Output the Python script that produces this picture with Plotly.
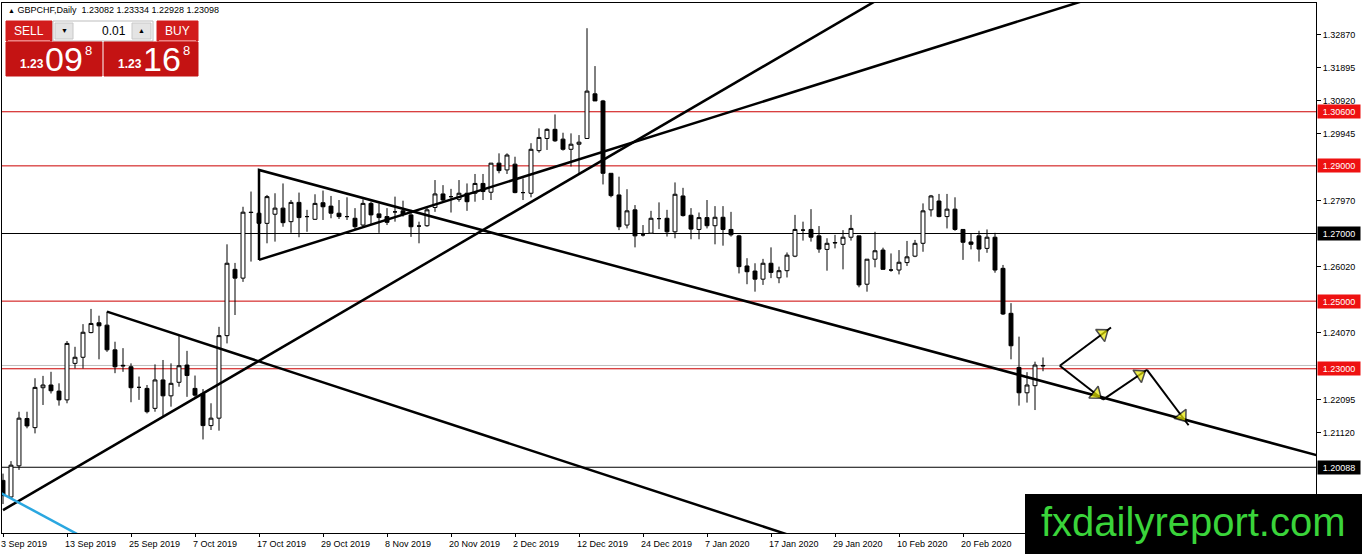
import pandas as pd
import plotly.graph_objects as go

# ---- GBPCHF daily candles ----
opens = [1.1970, 1.1921, 1.2013, 1.2153, 1.2126, 1.2244, 1.2252, 1.2234, 1.2208, 1.2316,
         1.2334, 1.2407, 1.2436, 1.2429, 1.2356, 1.2308, 1.2306, 1.2245, 1.2242, 1.2183,
         1.2267, 1.2220, 1.2260, 1.2311, 1.2242, 1.2227, 1.2132, 1.2154, 1.2398, 1.2594,
         1.2568, 1.2763, 1.2760, 1.2730, 1.2757, 1.2775, 1.2735, 1.2792, 1.2750, 1.2742,
         1.2791, 1.2781, 1.2760, 1.2750, 1.2745, 1.2725, 1.2789, 1.2758, 1.2750, 1.2764,
         1.2767, 1.2755, 1.2722, 1.2723, 1.2777, 1.2817, 1.2809, 1.2801, 1.2819, 1.2819,
         1.2848, 1.2822, 1.2908, 1.2888, 1.2905, 1.2821, 1.2819, 1.2945, 1.2981, 1.3008,
         1.2979, 1.2949, 1.2964, 1.2981, 1.3113, 1.3092, 1.2878, 1.2814, 1.2725, 1.2770,
         1.2696, 1.2701, 1.2744, 1.2745, 1.2705, 1.2811, 1.2754, 1.2712, 1.2747, 1.2723,
         1.2748, 1.2712, 1.2693, 1.2604, 1.2589, 1.2565, 1.2612, 1.2569, 1.2590, 1.2633,
         1.2710, 1.2712, 1.2693, 1.2653, 1.2672, 1.2668, 1.2689, 1.2693, 1.2550, 1.2624,
         1.2651, 1.2592, 1.2592, 1.2614, 1.2633, 1.2671, 1.2770, 1.2796, 1.2750, 1.2772,
         1.2712, 1.2675, 1.2693, 1.2656, 1.2689, 1.2597, 1.2464, 1.2304, 1.2229, 1.2250,
         1.23082]
highs = [1.1990, 1.2027, 1.2173, 1.2173, 1.2272, 1.2279, 1.2291, 1.2257, 1.2382, 1.2365,
         1.2432, 1.2477, 1.2457, 1.2469, 1.2380, 1.2361, 1.2316, 1.2277, 1.2252, 1.2313,
         1.2326, 1.2316, 1.2398, 1.2353, 1.2280, 1.2240, 1.2198, 1.2424, 1.2668, 1.2613,
         1.2779, 1.2824, 1.2784, 1.2814, 1.2819, 1.2848, 1.2799, 1.2821, 1.2770, 1.2816,
         1.2827, 1.2811, 1.2799, 1.2807, 1.2775, 1.2801, 1.2794, 1.2789, 1.2775, 1.2809,
         1.2797, 1.2770, 1.2735, 1.2777, 1.2858, 1.2843, 1.2832, 1.2858, 1.2848, 1.2876,
         1.2876, 1.2908, 1.2937, 1.2937, 1.2927, 1.2863, 1.2967, 1.3011, 1.3011, 1.3052,
         1.2998, 1.2996, 1.2991, 1.3307, 1.3195, 1.3095, 1.2878, 1.2868, 1.2831, 1.2784,
         1.2725, 1.2767, 1.2792, 1.2770, 1.2851, 1.2835, 1.2775, 1.2762, 1.2799, 1.2781,
         1.2781, 1.2764, 1.2696, 1.2627, 1.2612, 1.2625, 1.2659, 1.2602, 1.2644, 1.2755,
         1.2735, 1.2772, 1.2722, 1.2686, 1.2696, 1.2710, 1.2755, 1.2693, 1.2624, 1.2705,
         1.2658, 1.2641, 1.2651, 1.2678, 1.2681, 1.2789, 1.2814, 1.2817, 1.2817, 1.2807,
         1.2712, 1.2701, 1.2708, 1.2712, 1.2702, 1.2607, 1.2494, 1.2395, 1.2290, 1.2321,
         1.23334]
lows = [1.1900, 1.1915, 1.2001, 1.2124, 1.2109, 1.2193, 1.2227, 1.2191, 1.2198, 1.2301,
        1.2301, 1.2405, 1.2328, 1.2350, 1.2287, 1.2291, 1.2201, 1.2208, 1.2168, 1.2173,
        1.2158, 1.2188, 1.2247, 1.2217, 1.2217, 1.2091, 1.2119, 1.2117, 1.2375, 1.2459,
        1.2557, 1.2617, 1.2681, 1.2671, 1.2676, 1.2720, 1.2702, 1.2689, 1.2705, 1.2740,
        1.2740, 1.2745, 1.2743, 1.2740, 1.2712, 1.2718, 1.2725, 1.2702, 1.2725, 1.2735,
        1.2750, 1.2690, 1.2671, 1.2720, 1.2764, 1.2791, 1.2762, 1.2794, 1.2767, 1.2794,
        1.2799, 1.2799, 1.2878, 1.2876, 1.2819, 1.2799, 1.2807, 1.2939, 1.2947, 1.2971,
        1.2945, 1.2898, 1.2876, 1.2981, 1.3092, 1.2845, 1.2807, 1.2710, 1.2715, 1.2659,
        1.2691, 1.2701, 1.2713, 1.2691, 1.2686, 1.2750, 1.2683, 1.2683, 1.2715, 1.2668,
        1.2664, 1.2691, 1.2582, 1.2550, 1.2528, 1.2548, 1.2568, 1.2553, 1.2570, 1.2630,
        1.2679, 1.2676, 1.2643, 1.2590, 1.2656, 1.2594, 1.2679, 1.2541, 1.2528, 1.2600,
        1.2594, 1.2587, 1.2579, 1.2604, 1.2630, 1.2646, 1.2750, 1.2748, 1.2715, 1.2708,
        1.2622, 1.2653, 1.2617, 1.2643, 1.2584, 1.2459, 1.2328, 1.2191, 1.2200, 1.2178,
        1.22928]
closes = [1.1925, 1.2015, 1.2154, 1.2131, 1.2245, 1.2252, 1.2235, 1.2208, 1.2375, 1.2334,
          1.2408, 1.2434, 1.2427, 1.2356, 1.2306, 1.2310, 1.2244, 1.2245, 1.2173, 1.2267,
          1.2220, 1.2257, 1.2309, 1.2280, 1.2222, 1.2132, 1.2154, 1.2398, 1.2612, 1.2568,
          1.2763, 1.2762, 1.2730, 1.2809, 1.2775, 1.2732, 1.2792, 1.2747, 1.2750, 1.2789,
          1.2779, 1.2760, 1.2750, 1.2750, 1.2720, 1.2789, 1.2755, 1.2747, 1.2733, 1.2764,
          1.2757, 1.2720, 1.2722, 1.2770, 1.2817, 1.2799, 1.2809, 1.2819, 1.2794, 1.2848,
          1.2824, 1.2908, 1.2886, 1.2932, 1.2821, 1.2821, 1.2949, 1.2984, 1.3008, 1.2974,
          1.2949, 1.2964, 1.2970, 1.3121, 1.3092, 1.2878, 1.2812, 1.2720, 1.2767, 1.2693,
          1.2696, 1.2745, 1.2744, 1.2705, 1.2816, 1.2753, 1.2713, 1.2747, 1.2723, 1.2748,
          1.2712, 1.2696, 1.2602, 1.2587, 1.2565, 1.2612, 1.2585, 1.2590, 1.2636, 1.2712,
          1.2710, 1.2689, 1.2654, 1.2671, 1.2673, 1.2689, 1.2715, 1.2548, 1.2624, 1.2649,
          1.2594, 1.2592, 1.2615, 1.2631, 1.2671, 1.2767, 1.2811, 1.2750, 1.2772, 1.2712,
          1.2674, 1.2668, 1.2654, 1.2689, 1.2592, 1.2462, 1.2368, 1.2229, 1.2252, 1.2311,
          1.23098]

# trading days shown on the chart (no bars on 25 Dec and 1 Jan)
skip_days = ["2019-12-25", "2020-01-01"]
all_days = pd.bdate_range("2019-09-03", periods=160)
dates = [d for d in all_days if d.strftime("%Y-%m-%d") not in skip_days][:len(closes)]
bar_idx = list(range(len(closes)))

date_labels = ["3 Sep 2019", "13 Sep 2019", "25 Sep 2019", "7 Oct 2019", "17 Oct 2019",
               "29 Oct 2019", "8 Nov 2019", "20 Nov 2019", "2 Dec 2019", "12 Dec 2019",
               "24 Dec 2019", "7 Jan 2020", "17 Jan 2020", "29 Jan 2020", "10 Feb 2020",
               "20 Feb 2020"]
price_ticks = [1.32870, 1.31895, 1.30920, 1.29945, 1.27970, 1.26020, 1.24070,
               1.22095, 1.21120, 1.19170]

# horizontal levels and their price tags
level_prices = [1.30600, 1.29000, 1.27000, 1.25000, 1.23000, 1.20088]
level_colors = ["#cc0000", "#cc0000", "#000000", "#cc0000", "#cc0000", "#000000"]
tag_colors = ["#ee1111", "#ee1111", "#000000", "#ee1111", "#ee1111", "#000000"]
bid_price = 1.23098

# trend lines (bar index, price)
up_x, up_p = [0, 112], [1.1882, 1.3428]
chan_x, chan_p = [32, 136], [1.2622, 1.3395]
tri_x, tri_p = [166, 32, 32], [1.2033, 1.2888, 1.2622]
down_x, down_p = [13, 100], [1.2469, 1.1795]
blue_x, blue_p = [-0.2, 10], [1.1932, 1.1802]

# projected path arrows
arrow_x0 = [132.1, 132.1, 137.5, 143.0]
arrow_p0 = [1.2309, 1.2309, 1.2209, 1.2297]
arrow_x1 = [138.5, 137.5, 143.0, 148.2]
arrow_p1 = [1.2422, 1.2209, 1.2297, 1.2133]

W, H = 1362, 554
ML, MR, MT, MB = 2, 46, 3, 21
PW, PH = W - ML - MR, H - MT - MB


def fx(px):
    return (px - ML) / PW


def fy(py):
    return (H - MB - py) / PH


FONT = "Liberation Sans, Arial, sans-serif"

fig = go.Figure()
fig.add_trace(go.Candlestick(
    x=bar_idx, open=opens, high=highs, low=lows, close=closes,
    increasing=dict(line=dict(color="black", width=1), fillcolor="white"),
    decreasing=dict(line=dict(color="black", width=1), fillcolor="black"),
    whiskerwidth=0, showlegend=False, hoverinfo="skip"))

for xs, ps in [(up_x, up_p), (chan_x, chan_p), (tri_x, tri_p), (down_x, down_p)]:
    fig.add_trace(go.Scatter(x=xs, y=ps, mode="lines", line=dict(color="black", width=2.5),
                             showlegend=False, hoverinfo="skip"))
fig.add_trace(go.Scatter(x=blue_x, y=blue_p, mode="lines", line=dict(color="#2aa7e0", width=2.5),
                         showlegend=False, hoverinfo="skip"))

for x0, p0, x1, p1 in zip(arrow_x0, arrow_p0, arrow_x1, arrow_p1):
    fig.add_trace(go.Scatter(x=[x0, x1], y=[p0, p1], mode="lines",
                             line=dict(color="black", width=2), showlegend=False, hoverinfo="skip"))
    hx = x0 + (x1 - x0) * 0.84
    hp = p0 + (p1 - p0) * 0.84
    fig.add_trace(go.Scatter(x=[x0, hx], y=[p0, hp], mode="markers",
                             marker=dict(symbol="triangle-up", size=[0, 13], angleref="previous",
                                         color="#e6e600", line=dict(color="black", width=1.5)),
                             showlegend=False, hoverinfo="skip"))

shapes = []
for p, c in zip(level_prices, level_colors):
    shapes.append(dict(type="line", xref="paper", x0=0, x1=1, yref="y", y0=p, y1=p,
                       line=dict(color=c, width=1), layer="below"))
shapes.append(dict(type="line", xref="paper", x0=0, x1=1, yref="y", y0=bid_price, y1=bid_price,
                   line=dict(color="#c0c0c0", width=1), layer="below"))

annotations = []
for p, c in zip(level_prices, tag_colors):
    annotations.append(dict(x=1, xref="paper", xanchor="left", xshift=1, y=p, yref="y",
                            text="%.5f" % p, showarrow=False, bgcolor=c, borderpad=1,
                            width=40, height=11, font=dict(family=FONT, size=9, color="white")))

# date labels on the time axis, left aligned at their bar
tick_idx = []
for lab in date_labels:
    d = pd.to_datetime(lab, format="%d %b %Y")
    i = dates.index(d)
    tick_idx.append(i)
    annotations.append(dict(x=i, xref="x", xanchor="left", xshift=-4, y=0, yref="paper",
                            yanchor="top", yshift=-4, text=lab, showarrow=False,
                            font=dict(family=FONT, size=9, color="black")))

# header
annotations.append(dict(x=fx(6), y=fy(10), xref="paper", yref="paper", xanchor="left",
                        yanchor="middle", showarrow=False,
                        text="<span style='font-size:7px'>▲</span> GBPCHF,Daily  "
                             "%.5f %.5f %.5f %.5f" % (opens[-1], highs[-1], lows[-1], closes[-1]),
                        font=dict(family=FONT, size=9, color="black")))

# one-click trading panel
red_top = "#d21c1c"
red_box = "#c41313"
panel = [
    (6, 21, 52, 41, red_top, None),
    (53, 21, 153, 41, "white", "#bdbdbd"),
    (55, 23, 73, 39, "#e4e4e4", "#c8c8c8"),
    (132, 23, 151, 39, "#e4e4e4", "#c8c8c8"),
    (157, 21, 198, 41, red_top, None),
    (6, 42, 102, 76, red_box, None),
    (104, 42, 198, 76, red_box, None),
]
for x0, y0, x1, y1, fill, edge in panel:
    shapes.append(dict(type="rect", xref="paper", yref="paper", x0=fx(x0), x1=fx(x1),
                       y0=fy(y1), y1=fy(y0), fillcolor=fill, layer="above",
                       line=dict(color=edge if edge else fill, width=1)))
shapes.append(dict(type="line", xref="paper", yref="paper", x0=fx(8), x1=fx(50), y0=fy(40.5),
                   y1=fy(40.5), line=dict(color="#f08080", width=1), layer="above"))
shapes.append(dict(type="line", xref="paper", yref="paper", x0=fx(159), x1=fx(196), y0=fy(40.5),
                   y1=fy(40.5), line=dict(color="#f08080", width=1), layer="above"))

panel_text = [
    (29, 31, "SELL", 12, "white", "center"),
    (177, 31, "BUY", 12, "white", "center"),
    (64, 31, "▼", 7, "black", "center"),
    (141, 31, "▲", 7, "black", "center"),
    (128, 31, "0.01", 12, "black", "right"),
    (32, 64, "<b>1.23</b>", 12, "white", "center"),
    (64, 59, "09", 34, "white", "center"),
    (88, 51, "8", 13, "white", "center"),
    (130, 64, "<b>1.23</b>", 12, "white", "center"),
    (162, 59, "16", 34, "white", "center"),
    (186, 51, "8", 13, "white", "center"),
]
for x, y, t, s, c, anchor in panel_text:
    annotations.append(dict(x=fx(x), y=fy(y), xref="paper", yref="paper", xanchor=anchor,
                            yanchor="middle", text=t, showarrow=False,
                            font=dict(family=FONT, size=s, color=c)))

# watermark
shapes.append(dict(type="rect", xref="paper", yref="paper", x0=fx(1025), x1=fx(1364),
                   y0=fy(556), y1=fy(494), fillcolor="black", line=dict(width=0), layer="above"))
annotations.append(dict(x=fx(1193), y=fy(522), xref="paper", yref="paper", xanchor="center",
                        yanchor="middle", text="fxdailyreport.com", showarrow=False,
                        font=dict(family=FONT, size=40, color="#3ad43a")))

fig.update_layout(
    width=W, height=H, margin=dict(l=ML, r=MR, t=MT, b=MB),
    paper_bgcolor="white", plot_bgcolor="white", showlegend=False,
    shapes=shapes, annotations=annotations,
    xaxis=dict(range=[-0.125, 164.125], showgrid=False, zeroline=False, showline=True,
               mirror=True, linecolor="black", linewidth=1, ticks="outside", ticklen=3,
               tickcolor="black", tickvals=tick_idx, showticklabels=False,
               rangeslider=dict(visible=False)),
    yaxis=dict(side="right", range=[1.181443, 1.338155], showgrid=False, zeroline=False,
               showline=True, mirror=True, linecolor="black", linewidth=1, ticks="outside",
               ticklen=4, tickcolor="black", tickvals=price_ticks,
               ticktext=["%.5f" % v for v in price_ticks],
               tickfont=dict(family=FONT, size=9, color="black")),
)

# the page's default body margin would push the fixed-size figure off the window
fig.write_html("out.html", config={"displayModeBar": False},
               post_script="document.body.style.margin = '0';")
